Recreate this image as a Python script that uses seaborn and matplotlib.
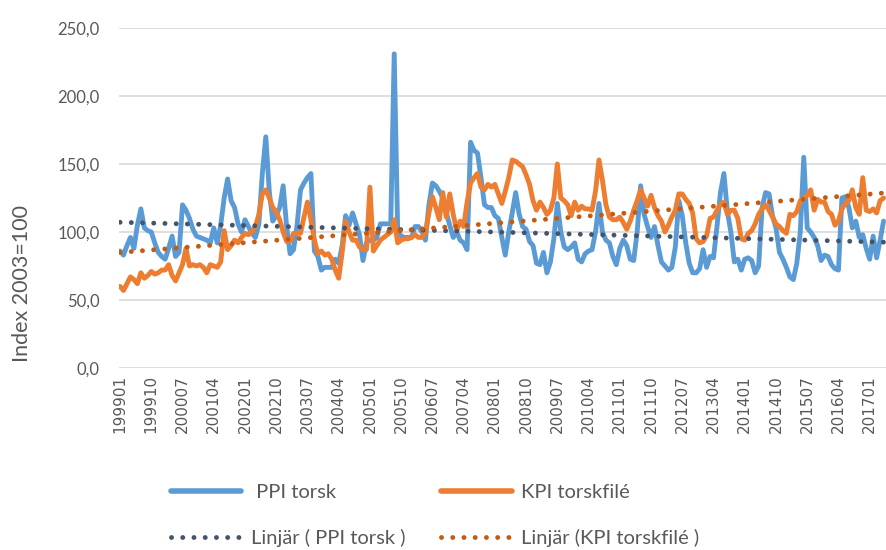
import numpy as np
import pandas as pd
import matplotlib.pyplot as plt
import seaborn as sns
from matplotlib.lines import Line2D

# Monthly index values (2003=100), 199901 onward
ppi_torsk = [
    86, 83, 90, 96, 88, 105, 117, 103, 101, 100,
    92, 85, 82, 80, 88, 97, 82, 85, 120, 116,
    110, 102, 97, 96, 95, 94, 92, 103, 92, 105,
    125, 139, 123, 118, 106, 100, 109, 104, 99, 96,
    106, 143, 170, 130, 108, 112, 118, 134, 104, 84,
    87, 105, 131, 136, 140, 143, 86, 82, 72, 74,
    74, 74, 80, 77, 90, 112, 105, 114, 106, 98,
    79, 92, 94, 94, 96, 106, 106, 106, 106, 231,
    101, 97, 96, 96, 96, 104, 104, 100, 94, 120,
    136, 134, 130, 125, 114, 105, 96, 100, 94, 92,
    87, 166, 160, 158, 140, 120, 118, 118, 112, 110,
    96, 83, 100, 114, 129, 113, 104, 102, 93, 90,
    77, 76, 85, 70, 78, 95, 121, 100, 89, 87,
    89, 92, 80, 78, 84, 86, 87, 100, 121, 100,
    94, 92, 82, 76, 88, 94, 90, 80, 79, 100,
    134, 113, 104, 96, 104, 90, 78, 75, 72, 74,
    89, 123, 112, 92, 77, 70, 70, 73, 87, 74,
    82, 81, 104, 129, 143, 115, 100, 78, 80, 72,
    80, 81, 79, 70, 75, 118, 129, 128, 112, 103,
    85, 80, 74, 67, 65, 77, 100, 155, 103, 100,
    96, 90, 79, 83, 82, 76, 73, 72, 125, 126,
    118, 103, 108, 96, 98, 88, 80, 97, 81, 94,
    108,
]
kpi_torskfile = [
    60, 57, 62, 67, 65, 62, 70, 66, 68, 71,
    69, 70, 72, 72, 76, 68, 64, 70, 76, 88,
    75, 76, 75, 76, 74, 70, 76, 75, 74, 78,
    101, 87, 90, 94, 92, 96, 99, 98, 100, 104,
    113, 128, 131, 125, 118, 115, 109, 100, 93, 93,
    99, 99, 99, 111, 122, 109, 94, 84, 86, 83,
    84, 80, 72, 66, 85, 108, 100, 94, 94, 89,
    87, 87, 133, 86, 90, 94, 96, 98, 100, 109,
    92, 94, 95, 95, 96, 98, 96, 96, 100, 114,
    126, 118, 109, 129, 111, 128, 113, 101, 108, 104,
    122, 136, 140, 143, 133, 131, 135, 133, 135, 128,
    121, 130, 140, 153, 152, 150, 148, 142, 135, 123,
    116, 122, 118, 113, 116, 125, 150, 125, 123, 120,
    112, 122, 116, 119, 117, 117, 116, 130, 153, 138,
    120, 111, 109, 109, 111, 107, 102, 108, 116, 123,
    131, 125, 119, 127, 118, 112, 108, 100, 105, 111,
    116, 128, 128, 124, 121, 114, 95, 92, 93, 97,
    110, 111, 116, 120, 122, 113, 116, 116, 110, 95,
    94, 99, 101, 106, 113, 117, 120, 116, 111, 106,
    104, 101, 99, 113, 112, 115, 123, 125, 127, 131,
    116, 124, 122, 122, 115, 113, 105, 108, 117, 121,
    123, 131, 118, 113, 140, 116, 115, 117, 114, 123,
    125,
]
months = pd.period_range("1999-01", periods=len(ppi_torsk), freq="M").strftime("%Y%m")

df = pd.DataFrame({
    "idx": np.arange(len(ppi_torsk)),
    "month": months,
    "PPI torsk": ppi_torsk,
    "KPI torskfilé": kpi_torskfile,
})

sns.set_style("white")
grey = "#595959"
blue, orange = "#5B9BD5", "#ED7D31"
navy, rust = "#44546A", "#C55A11"

fig = plt.figure(figsize=(8.86, 5.5), dpi=100)
ax = fig.add_axes([119 / 886, 1 - 368 / 550, 1 - 119 / 886, 340 / 550])

sns.lineplot(data=df, x="idx", y="PPI torsk", color=blue, lw=3.5, ax=ax)
sns.lineplot(data=df, x="idx", y="KPI torskfilé", color=orange, lw=3.5, ax=ax)

# linear trendlines (like Excel's "Linjär")
dots = (0, (0.01, 2.3))
x = df["idx"].to_numpy()
for col, c in [("PPI torsk", navy), ("KPI torskfilé", rust)]:
    k, m = np.polyfit(x, df[col], 1)
    ax.plot(x, k * x + m, color=c, lw=3.5, ls=dots, dash_capstyle="round")

ax.set_xlim(-0.3, 220.7)
ax.set_ylim(0, 250)
ax.set_yticks(np.arange(0, 251, 50))
ax.set_yticklabels([f"{v:.1f}".replace(".", ",") for v in np.arange(0, 251, 50)],
                   fontsize=12, color=grey, family="Lato")
ticks = x[::9]
ax.set_xticks(ticks)
ax.set_xticklabels(df["month"].iloc[ticks], rotation=90, fontsize=11, color=grey)
ax.tick_params(axis="y", length=0, pad=14)
ax.tick_params(axis="x", length=0, pad=5)
ax.yaxis.grid(True, color="#D9D9D9", lw=1.2)
ax.set_axisbelow(True)
ax.set_xlabel("")
ax.set_ylabel("")
sns.despine(ax=ax, left=True, bottom=True)

fig.text(22 / 886, 1 - 283 / 550, "Index 2003=100", rotation=90, ha="center", va="center",
         fontsize=15.5, color=grey, family="Lato")

handles = [
    Line2D([], [], color=blue, lw=4),
    Line2D([], [], color=navy, lw=3.5, ls=dots, dash_capstyle="round"),
    Line2D([], [], color=orange, lw=4),
    Line2D([], [], color=rust, lw=3.5, ls=dots, dash_capstyle="round"),
]
labels = [" PPI torsk", "Linjär ( PPI torsk )", "KPI torskfilé", "Linjär (KPI torskfilé )"]
leg = fig.legend(handles, labels, ncol=2, loc="upper left",
                 bbox_to_anchor=(171 / 886, 1 - 484 / 550), frameon=False,
                 borderpad=0, borderaxespad=0, handlelength=3.5, handletextpad=0.45,
                 columnspacing=1.8, labelspacing=1.4, prop={"family": "Lato", "size": 14.5})
for t in leg.get_texts():
    t.set_color(grey)

fig.savefig("out.png", dpi=100)
